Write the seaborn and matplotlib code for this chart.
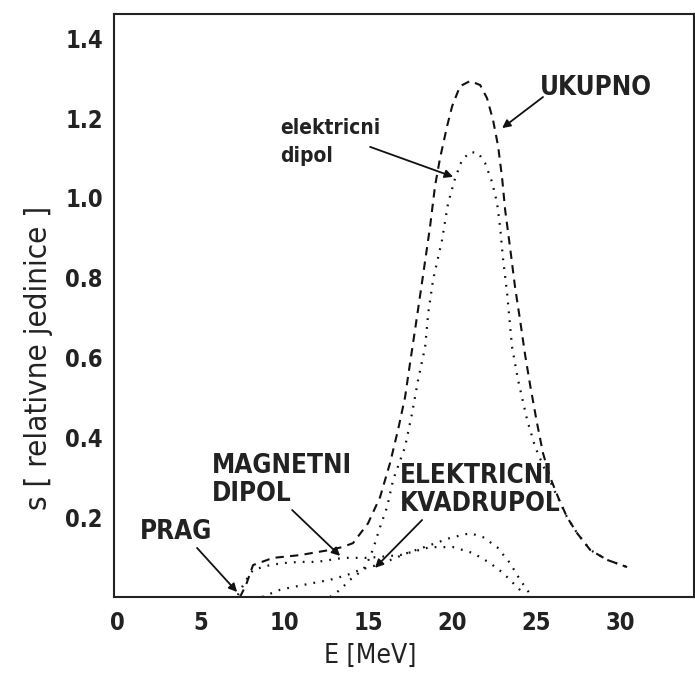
import matplotlib
matplotlib.use("Agg")
import matplotlib.pyplot as plt
import seaborn as sns
import pandas as pd

# ---- data ----
total_E = [7.33, 7.69, 8.11, 9.30, 10.91, 12.70, 13.42, 14.07, 14.97, 15.68, 16.28, 16.76,
           17.17, 17.47, 17.77, 18.19, 18.66, 18.96, 19.26, 19.68, 19.98, 20.45, 21.05,
           21.65, 22.06, 22.42, 22.72, 22.96, 23.14, 23.43, 23.73, 24.03, 24.33, 24.63,
           25.04, 25.40, 25.82, 26.30, 26.83, 27.43, 28.21, 29.22, 30.41]
total_s = [0.0, 0.03, 0.08, 0.098, 0.105, 0.118, 0.125, 0.135, 0.185, 0.25, 0.336, 0.42,
           0.50, 0.586, 0.67, 0.79, 0.927, 1.03, 1.10, 1.18, 1.23, 1.28, 1.293,
           1.283, 1.25, 1.195, 1.13, 1.05, 0.97, 0.877, 0.777, 0.694, 0.607, 0.531,
           0.436, 0.36, 0.30, 0.25, 0.20, 0.16, 0.118, 0.093, 0.075]

e1_E = [12.70, 13.30, 13.89, 14.67, 15.09, 15.38, 15.68, 16.10, 16.46, 17.17, 17.59, 17.95,
        18.37, 18.55, 18.84, 19.38, 19.74, 20.16, 20.57, 21.05, 21.53, 21.94, 22.36, 22.66,
        22.84, 23.02, 23.26, 23.55, 23.91, 24.45, 24.93, 25.52, 26.12, 26.83, 27.43, 28.21,
        29.22, 30.41]
e1_s = [0.0, 0.018, 0.043, 0.068, 0.10, 0.135, 0.175, 0.225, 0.293, 0.376, 0.46, 0.544,
        0.627, 0.71, 0.794, 0.895, 0.987, 1.05, 1.095, 1.115, 1.113, 1.088, 1.04, 0.987,
        0.927, 0.845, 0.76, 0.627, 0.544, 0.444, 0.376, 0.318, 0.263, 0.20, 0.16, 0.118,
        0.093, 0.075]

m1_E = [7.20, 7.63, 8.11, 9.12, 9.90, 10.91, 11.93, 13.48, 14.91, 16.88, 18.66, 20.04,
        21.23, 22.24, 23.02, 23.85, 24.33]
m1_s = [0.005, 0.038, 0.068, 0.080, 0.085, 0.088, 0.088, 0.098, 0.098, 0.105, 0.125, 0.125,
        0.110, 0.085, 0.060, 0.025, 0.005]

e2_E = [8.65, 9.72, 10.49, 11.69, 12.70, 13.71, 14.49, 15.50, 15.86, 17.29, 18.66, 19.86,
        21.05, 21.82, 22.66, 23.43, 24.03, 24.45, 24.75]
e2_s = [0.0, 0.018, 0.025, 0.035, 0.043, 0.055, 0.068, 0.080, 0.085, 0.110, 0.130, 0.148,
        0.160, 0.150, 0.125, 0.085, 0.043, 0.018, 0.0]

x_ticks = [0, 5, 10, 15, 20, 25, 30]
y_ticks = [0.2, 0.4, 0.6, 0.8, 1.0, 1.2, 1.4]
x_label = "E [MeV]"
y_label = "s [ relativne jedinice ]"

# annotations: text, text position, arrow tail, arrow tip
notes = [
    ("UKUPNO", (25.2, 1.276), (25.4, 1.253), (22.96, 1.175)),
    ("elektricni\ndipol", (9.72, 1.14), (15.09, 1.128), (20.04, 1.053)),
    ("MAGNETNI\nDIPOL", (5.66, 0.293), (10.44, 0.218), (13.3, 0.103)),
    ("ELEKTRICNI\nKVADRUPOL", (16.88, 0.268), (18.19, 0.193), (15.38, 0.073)),
    ("PRAG", (1.37, 0.163), (4.77, 0.123), (7.16, 0.0125)),
]

sns.set_theme(style="white")
plt.rcParams['font.family'] = ['DejaVu Sans']

W, H = 695, 677
fig = plt.figure(figsize=(W / 100, H / 100), dpi=100)
ax = fig.add_axes([114 / W, (H - 597) / H, (694 - 114) / W, (597 - 14) / H])

FS = dict(family='DejaVu Sans', stretch='condensed', weight='bold')
INK = '#222222'

sns.lineplot(x=total_E, y=total_s, ax=ax, color='#111111', lw=1.5, sort=False,
             linestyle=(0, (4, 3)))
for E, s in [(e1_E, e1_s), (m1_E, m1_s), (e2_E, e2_s)]:
    sns.lineplot(x=E, y=s, ax=ax, color='#111111', lw=1.6, sort=False,
                 linestyle=(0, (0.8, 3.2)))

ax.set_xlim(-0.18, 34.4)
ax.set_ylim(0, 1.461)
ax.set_xticks(x_ticks)
ax.set_yticks(y_ticks)
ax.set_xticklabels([str(t) for t in x_ticks], fontdict=FS, fontsize=17)
ax.set_yticklabels([f"{t:.1f}" for t in y_ticks], fontdict=FS, fontsize=17)
ax.tick_params(axis='both', direction='in', length=11, width=1.3, color=INK,
               labelcolor=INK)
ax.tick_params(axis='y', pad=8)
ax.tick_params(axis='x', pad=10)
for sp in ax.spines.values():
    sp.set_visible(True)
    sp.set_color(INK)
    sp.set_linewidth(1.5)
ax.set_xlabel("")
ax.set_ylabel("")

fig.text(370 / W, 1 - 656 / H, x_label, family='DejaVu Sans', stretch='condensed',
         fontsize=19, color=INK, ha='center', va='center')
fig.text(39 / W, 1 - 358 / H, y_label, family='DejaVu Sans', stretch='condensed',
         fontsize=22.5, color=INK, ha='center', va='center', rotation=90)

for txt, tpos, tail, tip in notes:
    lower = txt.islower()
    fs = 15 if lower else 18.7
    ax.text(tpos[0], tpos[1], txt, ha='left', va='center', fontsize=fs,
            fontdict=FS, color=INK, linespacing=1.45 if lower else 1.1)
    ax.annotate("", xy=tip, xytext=tail,
                arrowprops=dict(arrowstyle='-|>', color='#111111', lw=1.3,
                                mutation_scale=12, shrinkA=0, shrinkB=0))

fig.savefig("out.png", dpi=100)
